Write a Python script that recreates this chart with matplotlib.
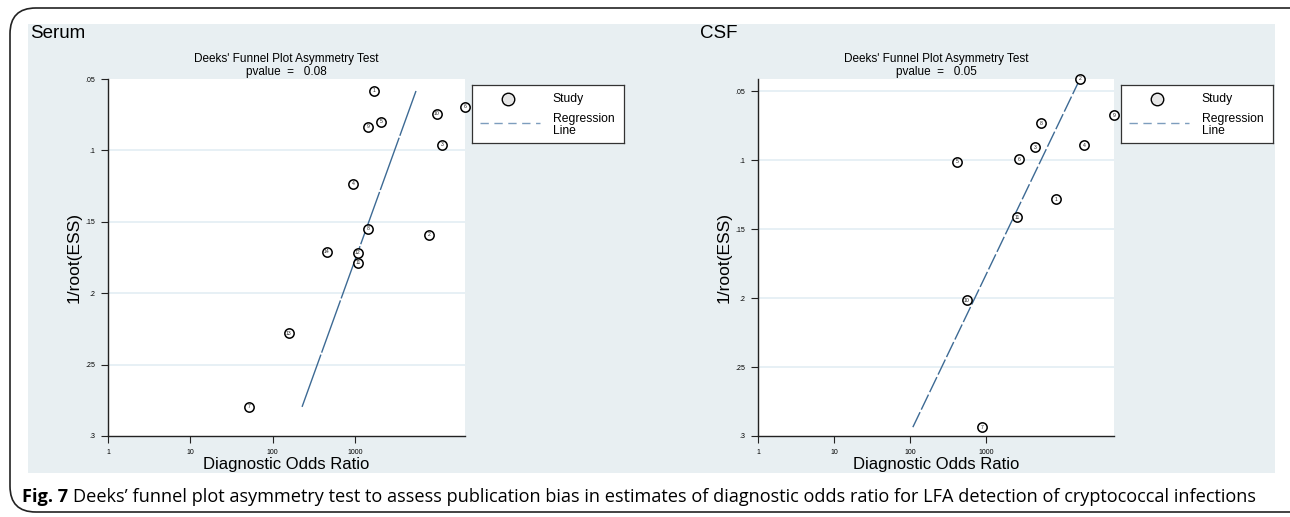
import numpy as np
import matplotlib.pyplot as plt
from matplotlib.patches import FancyBboxPatch, Rectangle
from matplotlib.lines import Line2D

plt.rcParams['font.family'] = ['Liberation Sans', 'DejaVu Sans']

# Serum study values (diagnostic odds ratio, 1/root(ESS))
serum_ids = ['1', '9', '5', '10', '6', '3', '4', '8', '2', '14', '12', '11', '13', '7']
serum_dor = [1706, 1443, 2075, 9950, 21770, 11430, 948, 1443, 7950, 458, 1091, 1091, 158, 51.7]
serum_ess = [0.0584, 0.0836, 0.0801, 0.0745, 0.0696, 0.0962, 0.1235, 0.155, 0.159,
             0.171, 0.1718, 0.1788, 0.228, 0.2796]
serum_line_x = [228, 5525]
serum_line_y = [0.2796, 0.0584]

# CSF study values
csf_ids = ['2', '9', '8', '3', '4', '6', '5', '1', '11', '10', '7']
csf_dor = [17250, 48300, 5290, 4413, 19460, 2718, 415, 8340, 2558, 562, 886]
csf_ess = [0.0413, 0.0674, 0.0732, 0.0906, 0.0892, 0.0993, 0.1014, 0.1283, 0.1414,
           0.2015, 0.2936]
csf_line_x = [109, 16240]
csf_line_y = [0.2936, 0.0442]

yticks = [0.05, 0.1, 0.15, 0.2, 0.25, 0.3]
ytick_labels = ['.05', '.1', '.15', '.2', '.25', '.3']
xticks = [1, 10, 100, 1000]
xtick_labels = ['1', '10', '100', '1000']

W, H = 1290, 517
fig = plt.figure(figsize=(W / 100, H / 100), dpi=100)
fig.patch.set_facecolor('white')

bg = '#e8eff2'
grid_col = '#e3eef3'
line_col = '#3d6a94'


def px(x0, y0, x1, y1):
    # pixel box (top-down) -> figure fraction
    return [x0 / W, 1 - y1 / H, (x1 - x0) / W, (y1 - y0) / H]


# outer frame and panel background
fig.patches.append(Rectangle((28 / W, 1 - 473 / H), (1275 - 28) / W, (473 - 24) / H,
                             transform=fig.transFigure, facecolor=bg, edgecolor='none', zorder=-5))
fig.patches.append(FancyBboxPatch((10 / W, 1 - 512 / H), 1400 / W, (512 - 8) / H,
                                  boxstyle='round,pad=0,rounding_size=0.02',
                                  transform=fig.transFigure, facecolor='none',
                                  edgecolor='#222222', linewidth=1.2, zorder=-4,
                                  mutation_aspect=W / H))


def funnel(box, ids, dor, ess, lx, ly, xmax, ytop, pval, panel_name, name_x, leg_box, dash):
    ax = fig.add_axes(px(*box))
    ax.set_facecolor('white')
    ax.set_xscale('log')
    ax.set_xlim(1, xmax)
    ax.set_ylim(0.3, ytop)
    for y in yticks[1:-1] + ([0.05] if ytop < 0.05 else []):
        ax.axhline(y, color=grid_col, lw=1.2, zorder=0)
    ax.plot(lx, ly, color=line_col, lw=1.0, dashes=dash, zorder=2)
    ax.scatter(dor, ess, s=45, facecolor='white', edgecolor='black', linewidth=1.1,
               zorder=3, clip_on=False)
    for i, x, y in zip(ids, dor, ess):
        ax.text(x, y, i, fontsize=3.7, ha='center', va='center', zorder=4, color='#222222')
    ax.set_yticks(yticks)
    ax.set_yticklabels(ytick_labels)
    ax.set_xticks(xticks)
    ax.set_xticklabels(xtick_labels)
    ax.minorticks_off()
    ax.tick_params(axis='both', labelsize=5, length=5, width=0.8, color='#222222', pad=4)
    for s in ['top', 'right']:
        ax.spines[s].set_visible(False)
    for s in ['left', 'bottom']:
        ax.spines[s].set_color('#222222')
        ax.spines[s].set_linewidth(1.0)
    ax.set_ylabel('1/root(ESS)', fontsize=12.5, labelpad=3)
    ax.set_xlabel('Diagnostic Odds Ratio', fontsize=12, labelpad=1)
    ax.set_title("Deeks' Funnel Plot Asymmetry Test\npvalue  =   " + pval,
                 fontsize=8.5, pad=3, linespacing=1.05)
    fig.text(name_x / W, 1 - 33 / H, panel_name, fontsize=13.5, va='center', ha='left')

    # legend box
    lax = fig.add_axes(px(*leg_box))
    lax.set_xlim(0, 1)
    lax.set_ylim(1, 0)
    lax.set_xticks([])
    lax.set_yticks([])
    for s in lax.spines.values():
        s.set_color('#333333')
        s.set_linewidth(0.9)
    lax.plot([0.24], [0.24], 'o', ms=9, mfc='#e6e6e6', mec='black', mew=1.0)
    lax.add_line(Line2D([0.05, 0.45], [0.66, 0.66], color='#7d9dbd', lw=1.0, dashes=(6, 4)))
    lax.text(0.53, 0.24, 'Study', fontsize=8.7, va='center')
    lax.text(0.53, 0.69, 'Regression\nLine', fontsize=8.7, va='center', linespacing=0.9)
    return ax


funnel((108, 79, 465, 436), serum_ids, serum_dor, serum_ess, serum_line_x, serum_line_y,
       21770, 0.05, '0.08', 'Serum', 30, (472, 85, 624, 143), (40, 1.5))
funnel((758, 79, 1114, 436), csf_ids, csf_dor, csf_ess, csf_line_x, csf_line_y,
       48300, 0.0413, '0.05', 'CSF', 700, (1121, 85, 1273, 143), (12, 2))

# caption
fig.text(22 / W, 1 - 497 / H, 'Fig. 7', fontsize=13.1, fontweight='bold', va='center',
         family='Open Sans')
fig.text(73 / W, 1 - 497 / H,
         "Deeks\u2019 funnel plot asymmetry test to assess publication bias in estimates of "
         "diagnostic odds ratio for LFA detection of cryptococcal infections",
         fontsize=13.1, va='center', family='Open Sans')

fig.savefig('out.png', dpi=100)
